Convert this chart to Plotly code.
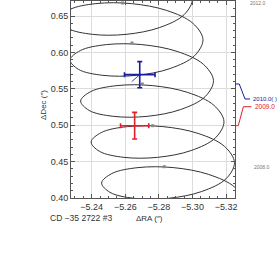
import plotly.graph_objects as go

# Predicted astrometric track, ΔRA / ΔDec in arcsec
track_ra = [-5.29170, -5.31173, -5.32625, -5.33124, -5.32520, -5.30964, -5.28857, -5.26750, -5.25194,
            -5.24591, -5.25090, -5.26542, -5.28545, -5.30548, -5.32000, -5.32499, -5.31895, -5.30339,
            -5.28232, -5.26125, -5.24569, -5.23966, -5.24465, -5.25917, -5.27920, -5.29923, -5.31374,
            -5.31873, -5.31270, -5.29714, -5.27607, -5.25500, -5.23944, -5.23341, -5.23840, -5.25291,
            -5.27294, -5.29297, -5.30749, -5.31248, -5.30645, -5.29089, -5.26982, -5.24875, -5.23319,
            -5.22716, -5.23214, -5.24666, -5.26669, -5.28672, -5.30124, -5.30623, -5.30020, -5.28464,
            -5.26357, -5.24250, -5.22694, -5.22091, -5.22590, -5.24042, -5.26045, -5.28048, -5.29499,
            -5.29998, -5.29395, -5.27839, -5.25732]
track_dec = [0.34320, 0.35262, 0.37019, 0.39248, 0.41478, 0.43235, 0.44176, 0.44173, 0.43355,
             0.42064, 0.40773, 0.39955, 0.39952, 0.40893, 0.42651, 0.44880, 0.47109, 0.48866,
             0.49808, 0.49805, 0.48986, 0.47696, 0.46405, 0.45586, 0.45584, 0.46525, 0.48282,
             0.50511, 0.52741, 0.54498, 0.55439, 0.55437, 0.54618, 0.53327, 0.52037, 0.51218,
             0.51215, 0.52157, 0.53914, 0.56143, 0.58372, 0.60130, 0.61071, 0.61068, 0.60250,
             0.58959, 0.57668, 0.56850, 0.56847, 0.57788, 0.59545, 0.61775, 0.64004, 0.65761,
             0.66703, 0.66700, 0.65881, 0.64591, 0.63300, 0.62481, 0.62478, 0.63420, 0.65177,
             0.67406, 0.69636, 0.71393, 0.72334]

# Year markers on the track
year_labels = ["2008.0", "2009.0", "2010.0", "2011.0", "2012.0"]
year_ra = [-5.28321, -5.27631, -5.27012, -5.26399, -5.25833]
year_dec = [0.44299, 0.49931, 0.55659, 0.61291, 0.66786]

# Measurements
meas_names = ["2009.0", "2010.0( )"]
meas_ra = [-5.26557, -5.26860]
meas_dec = [0.4993, 0.5694]
meas_era = [0.0084, 0.0091]
meas_edec = [0.0183, 0.0179]
meas_model_ra = [-5.2693, -5.2638]
meas_model_dec = [0.4990, 0.5598]
meas_colors = ["#e0202a", "#1c1ca0"]

x_ticks = [-5.24, -5.26, -5.28, -5.30, -5.32]
y_ticks = [0.40, 0.45, 0.50, 0.55, 0.60, 0.65]

fig = go.Figure()
fig.add_trace(go.Scatter(x=track_ra, y=track_dec, mode="lines",
                         line=dict(color="#333333", width=1, shape="spline"),
                         hoverinfo="skip"))
fig.add_trace(go.Scatter(x=year_ra, y=year_dec, mode="markers",
                         marker=dict(symbol="square", size=3, color="#888888"),
                         text=year_labels, hoverinfo="text"))
for i in range(len(meas_ra)):
    fig.add_trace(go.Scatter(x=[meas_ra[i], meas_model_ra[i]], y=[meas_dec[i], meas_model_dec[i]],
                             mode="lines", line=dict(color=meas_colors[i], width=0.8),
                             hoverinfo="skip"))
    fig.add_trace(go.Scatter(x=[meas_ra[i]], y=[meas_dec[i]], mode="markers",
                             marker=dict(size=1, color=meas_colors[i]),
                             error_x=dict(type="data", array=[meas_era[i]], color=meas_colors[i],
                                          thickness=1.6, width=2.5),
                             error_y=dict(type="data", array=[meas_edec[i]], color=meas_colors[i],
                                          thickness=1.6, width=2.5),
                             name=meas_names[i]))

axis_common = dict(showline=True, linecolor="#555555", linewidth=1, mirror="ticks",
                   ticks="inside", ticklen=4, tickcolor="#555555",
                   showgrid=True, gridcolor="#dcdcdc", gridwidth=1, zeroline=False,
                   tickfont=dict(family="Liberation Sans", size=9, color="#333333"))

fig.update_xaxes(range=[-5.22768, -5.32530], tickvals=x_ticks,
                 ticktext=[f"{v:.2f}".replace("-", "\u2212") for v in x_ticks],
                 minor=dict(dtick=0.005, ticks="inside", ticklen=2, tickcolor="#555555", showgrid=False),
                 **axis_common)
fig.update_yaxes(range=[0.40, 0.6706], tickvals=y_ticks,
                 ticktext=[f"{v:.2f}" for v in y_ticks],
                 minor=dict(dtick=0.01, ticks="inside", ticklen=2, tickcolor="#555555", showgrid=False),
                 **axis_common)

annotations = [
    dict(text="\u0394RA (\u2033)", x=0.48, y=-0.103, xref="paper", yref="paper",
         xanchor="center", yanchor="middle",
         showarrow=False, font=dict(family="Liberation Sans", size=8, color="#333333")),
    dict(text="\u0394Dec (\u2033)", x=-0.171, y=0.472, xref="paper", yref="paper", textangle=-90,
         xanchor="center", yanchor="middle",
         showarrow=False, font=dict(family="Liberation Sans", size=8, color="#333333")),
    dict(text="CD \u221235 2722 #3", x=-0.142, y=-0.103, xref="paper", yref="paper",
         xanchor="left", yanchor="middle", showarrow=False,
         font=dict(family="Liberation Sans", size=8.5, color="#333333")),
    dict(text=year_labels[4], x=1.079, y=year_dec[4], xref="paper", yref="y",
         xanchor="left", yanchor="middle",
         showarrow=False, font=dict(family="Liberation Sans", size=5, color="#777777")),
    dict(text=year_labels[0], x=1.104, y=year_dec[0], xref="paper", yref="y",
         xanchor="left", yanchor="middle",
         showarrow=False, font=dict(family="Liberation Sans", size=5, color="#777777")),
    dict(text=meas_names[1], x=1.098, y=0.536, xref="paper", yref="y",
         xanchor="left", yanchor="middle",
         showarrow=False, font=dict(family="Liberation Sans", size=6, color=meas_colors[1])),
    dict(text=meas_names[0], x=1.108, y=0.5254, xref="paper", yref="y",
         xanchor="left", yanchor="middle",
         showarrow=False, font=dict(family="Liberation Sans", size=6.5, color=meas_colors[0])),
]

shapes = [
    dict(type="path", xref="paper", yref="y",
         path=f"M 1.0,{year_dec[2]} L 1.026,{year_dec[2]} L 1.061,0.536 L 1.092,0.536",
         line=dict(color=meas_colors[1], width=1)),
    dict(type="path", xref="paper", yref="y",
         path=f"M 1.0,{year_dec[1]} L 1.020,{year_dec[1]} L 1.051,0.5254 L 1.100,0.5254",
         line=dict(color=meas_colors[0], width=1)),
]

fig.update_layout(width=277, height=263, margin=dict(l=71, r=42, t=1, b=65),
                  paper_bgcolor="white", plot_bgcolor="white", showlegend=False,
                  annotations=annotations, shapes=shapes)

fig.write_html("out.html", config={"displayModeBar": False},
               post_script="document.body.style.margin='0';document.body.style.overflow='hidden';")
